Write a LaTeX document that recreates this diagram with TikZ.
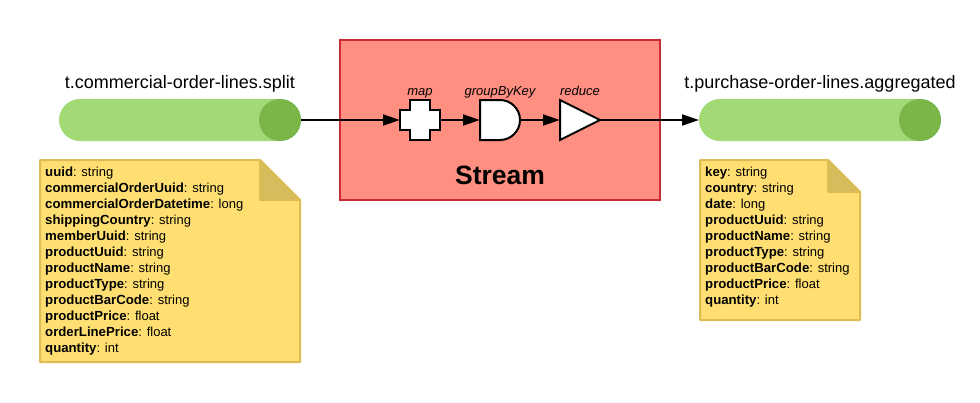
\documentclass[tikz,border=0pt]{standalone}
\usepackage{fontspec}
\setmainfont{Liberation Sans}
\usetikzlibrary{arrows.meta}
\definecolor{pillc}{HTML}{A3D977}
\definecolor{pilld}{HTML}{7AB648}
\definecolor{boxf}{HTML}{FF8F80}
\definecolor{boxd}{HTML}{C92D39}
\definecolor{notef}{HTML}{FFDF71}
\definecolor{noted}{HTML}{DDBB55}
\definecolor{foldc}{HTML}{D6BC5C}
\newcommand{\fieldname}[1]{{\fontsize{13.2}{16}\selectfont\bfseries #1}}
\tikzset{
  conn/.style={draw=black,line width=2pt,-{Triangle[length=17pt,width=11pt]}},
  anchorbox/.style={rectangle,minimum width=40pt,minimum height=40pt,inner sep=0pt,outer sep=0pt},
  opshape/.style={draw=black,fill=white,line width=2pt,line join=miter},
  oplabel/.style={font=\fontsize{13}{15}\selectfont\itshape,inner sep=0pt,anchor=base},
  title/.style={font=\fontsize{18}{20}\selectfont,inner sep=0pt,anchor=base},
  pill/.style={rectangle,rounded corners=21pt,fill=pillc,minimum width=242pt,minimum height=42pt,inner sep=0pt,outer sep=0pt},
  notetext/.style={font=\fontsize{13}{16}\selectfont,align=left,inner sep=0pt,anchor=north west,text=black},
  notebody/.style={fill=notef,draw=noted,line width=2pt,line join=round},
  foldpart/.style={fill=foldc,draw=noted,line width=2pt,line join=round},
}
\begin{document}
\begin{tikzpicture}[x=1pt,y=-1pt]
\useasboundingbox (0,0) rectangle (980,402);
% stream box
\node[rectangle,fill=boxf,draw=boxd,line width=2pt,minimum width=320pt,minimum height=160pt,inner sep=0pt,outer sep=0pt] (stream) at (500,120) {};
\node[font=\fontsize{26.5}{30}\selectfont\bfseries,inner sep=0pt,anchor=base] (streamlabel) at (500,184) {Stream};
% pills
\node[pill] (src) at (180,120) {};
\fill[pilld] (280,120) circle (21);
\node[pill] (dst) at (820,120) {};
\fill[pilld] (920,120) circle (21);
\node[title] (srct) at (180,88) {t.commercial-order-lines.split};
\node[title] (dstt) at (820,88) {t.purchase-order-lines.aggregated};
% operators
\node[anchorbox] (map) at (420,120) {};
\draw[opshape] (410,100) -- (430,100) -- (430,110) -- (440,110) -- (440,130) -- (430,130) -- (430,140) -- (410,140) -- (410,130) -- (400,130) -- (400,110) -- (410,110) -- cycle;
\node[anchorbox] (group) at (500,120) {};
\draw[opshape] (480,100) -- (500,100) arc[start angle=-90,end angle=90,radius=20] -- (480,140) -- cycle;
\node[anchorbox] (red) at (580,120) {};
\draw[opshape] (560,100) -- (600,120) -- (560,140) -- cycle;
\node[oplabel] (mapl) at (420,95) {map};
\node[oplabel] (groupl) at (500,95) {groupByKey};
\node[oplabel] (redl) at (580,95) {reduce};
% connectors
\draw[conn] (src.east) -- (map.west);
\draw[conn] (map.east) -- (group.west);
\draw[conn] (group.east) -- (red.west);
\draw[conn] (red.east) -- (dst.west);
% left note
\draw[notebody] (40,160) -- (260,160) -- (300,200) -- (300,362) -- (40,362) -- cycle;
\draw[foldpart] (260,160) -- (300,200) -- (260,200) -- cycle;
\node[notetext] (ln) at (45,167) {\fieldname{uuid}: string\\
\fieldname{commercialOrderUuid}: string\\
\fieldname{commercialOrderDatetime}: long\\
\fieldname{shippingCountry}: string\\
\fieldname{memberUuid}: string\\
\fieldname{productUuid}: string\\
\fieldname{productName}: string\\
\fieldname{productType}: string\\
\fieldname{productBarCode}: string\\
\fieldname{productPrice}: float\\
\fieldname{orderLinePrice}: float\\
\fieldname{quantity}: int};
% right note
\draw[notebody] (700,160) -- (828,160) -- (860,192) -- (860,320) -- (700,320) -- cycle;
\draw[foldpart] (828,160) -- (860,192) -- (828,192) -- cycle;
\node[notetext] (rn) at (705,167) {\fieldname{key}: string\\
\fieldname{country}: string\\
\fieldname{date}: long\\
\fieldname{productUuid}: string\\
\fieldname{productName}: string\\
\fieldname{productType}: string\\
\fieldname{productBarCode}: string\\
\fieldname{productPrice}: float\\
\fieldname{quantity}: int};
\end{tikzpicture}
\end{document}
